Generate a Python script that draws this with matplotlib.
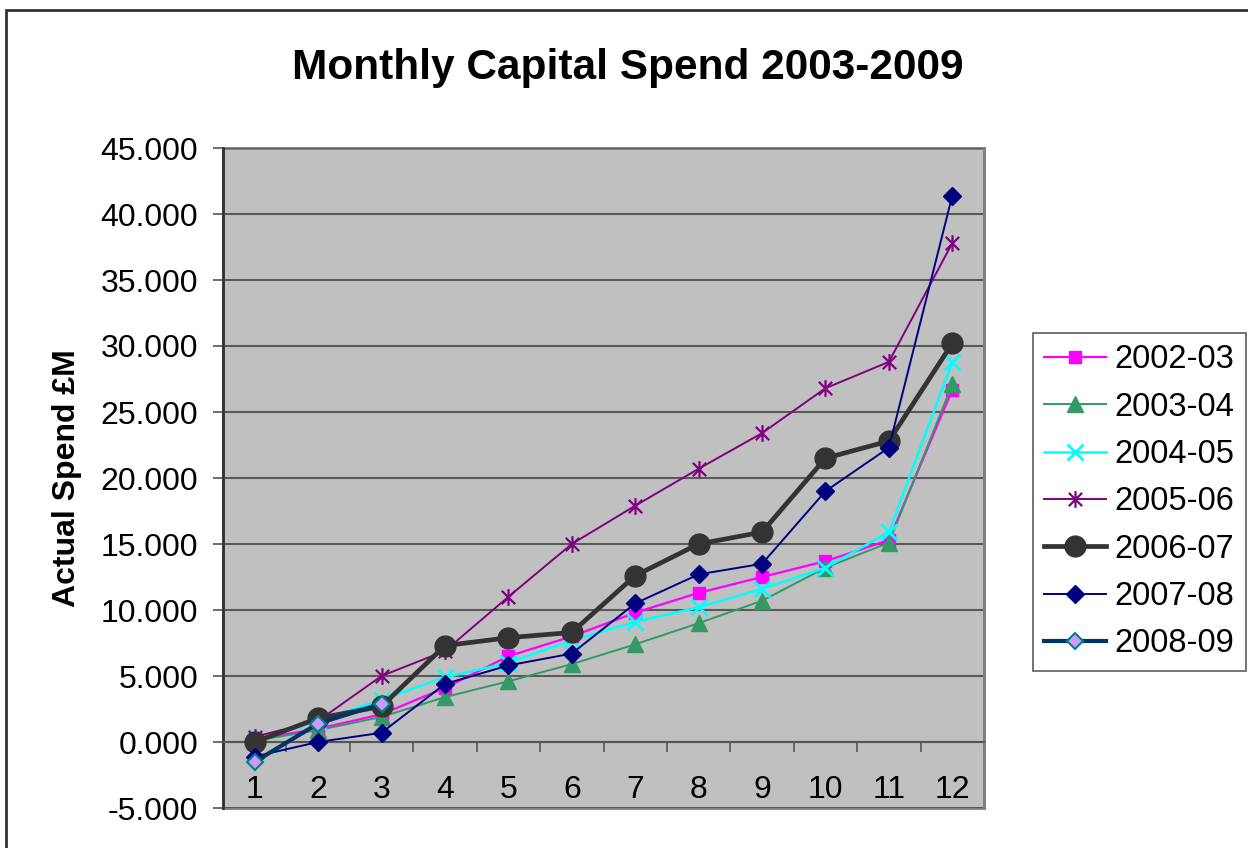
import matplotlib
matplotlib.use("Agg")
import matplotlib.pyplot as plt
from matplotlib.path import Path
from matplotlib.patches import Rectangle
from matplotlib.ticker import FixedLocator, FuncFormatter

plt.rcParams["font.family"] = ["Liberation Sans", "DejaVu Sans"]

# ── Datos: gasto de capital acumulado por mes (£M) ──────────
meses = list(range(1, 13))
etiquetas_mes = [str(m) for m in meses]

gasto_2002_03 = [0.2, 1.0, 2.1, 4.1, 6.5, 8.0, 9.8, 11.3, 12.5, 13.7, 15.3, 26.7]
gasto_2003_04 = [0.1, 0.9, 1.9, 3.4, 4.6, 5.9, 7.4, 9.0, 10.7, 13.2, 15.1, 27.1]
gasto_2004_05 = [0.1, 1.6, 3.2, 4.9, 6.0, 7.7, 9.1, 10.2, 11.6, 13.2, 15.9, 28.8]
gasto_2005_06 = [0.4, 1.6, 5.0, 6.9, 11.0, 15.0, 17.9, 20.7, 23.4, 26.8, 28.8, 37.8]
gasto_2006_07 = [0.0, 1.8, 2.7, 7.3, 7.9, 8.3, 12.6, 15.0, 15.9, 21.5, 22.8, 30.2]
gasto_2007_08 = [-1.1, 0.0, 0.7, 4.4, 5.8, 6.7, 10.5, 12.7, 13.5, 19.0, 22.3, 41.4]
gasto_2008_09 = [-1.5, 1.4, 2.9]

# Marcador "estrella" tipo Excel: aspa + barra vertical
estrella = Path(
    [(-1, -1), (1, 1), (-1, 1), (1, -1), (0, -1.25), (0, 1.25)],
    [Path.MOVETO, Path.LINETO, Path.MOVETO, Path.LINETO, Path.MOVETO, Path.LINETO],
)

series = [
    ("2002-03", gasto_2002_03, dict(color="#FF00FF", lw=1.6, marker="s", ms=9)),
    ("2003-04", gasto_2003_04, dict(color="#339966", lw=1.4, marker="^", ms=11.5)),
    ("2004-05", gasto_2004_05, dict(color="#00FFFF", lw=1.8, marker="x", ms=11, mew=2)),
    ("2005-06", gasto_2005_06, dict(color="#800080", lw=1.4, marker=estrella, ms=12,
                                    mew=1.6, mfc="none")),
    ("2006-07", gasto_2006_07, dict(color="#333333", lw=3.4, marker="o", ms=15)),
    ("2007-08", gasto_2007_08, dict(color="#000080", lw=1.4, marker="D", ms=9)),
    ("2008-09", gasto_2008_09, dict(color="#003366", lw=3.0, marker="D", ms=8.5,
                                    mfc="#CC99FF", mec="#008080", mew=1.5)),
]

fig = plt.figure(figsize=(12.48, 8.48), dpi=100)
ax = fig.add_axes([223 / 1248, 1 - 808 / 848, (984 - 223) / 1248, (808 - 148) / 848])

ax.set_facecolor("#C0C0C0")
ax.patch.set_edgecolor("#808080")
ax.patch.set_linewidth(2)

for nombre, valores, estilo in series:
    ax.plot(meses[:len(valores)], valores, label=nombre, zorder=3, **estilo)

ax.set_xlim(0.5, 12.5)
ax.set_ylim(-5, 45)

# Rejilla horizontal cada 5
ax.set_yticks(range(-5, 50, 5))
ax.yaxis.set_major_formatter(FuncFormatter(lambda v, p: f"{v:.3f}"))
ax.grid(axis="y", color="#5A5A5A", lw=1.5, zorder=1)
ax.set_axisbelow(True)

# Eje X cruzando en 0, marcas entre categorías
ax.spines["bottom"].set_position(("data", 0))
ax.spines["bottom"].set_color("#555555")
ax.spines["bottom"].set_linewidth(1.5)
ax.spines["top"].set_visible(False)
ax.spines["right"].set_color("#808080")
ax.spines["right"].set_linewidth(2)
ax.spines["left"].set_color("#333333")
ax.spines["left"].set_linewidth(2)

ax.xaxis.set_major_locator(FixedLocator([m + 0.5 for m in range(0, 13)]))
ax.xaxis.set_major_formatter(FuncFormatter(lambda v, p: ""))
ax.xaxis.set_minor_locator(FixedLocator(meses))
ax.set_xticklabels(etiquetas_mes, minor=True)
ax.tick_params(axis="x", which="major", direction="out", length=7, width=1.2,
               color="#555555")
ax.tick_params(axis="x", which="minor", length=0, pad=24, labelsize=23)
ax.tick_params(axis="y", direction="out", length=7, width=1.2, color="#555555",
               labelsize=23, pad=11)

ax.set_ylabel("Actual Spend £M", fontsize=23, fontweight="bold", labelpad=13)

fig.suptitle("Monthly Capital Spend 2003-2009", fontsize=30.5, fontweight="bold",
             x=0.503, y=0.943)

leg = fig.legend(loc="upper left", bbox_to_anchor=(1033 / 1248, 1 - 333 / 848),
                 fontsize=23.5, frameon=True, fancybox=False, edgecolor="#333333",
                 handlelength=1.9, handletextpad=0.25, labelspacing=0.5,
                 borderpad=0.35, borderaxespad=0)
leg.get_frame().set_linewidth(1.2)

# Marco exterior del gráfico
fig.patches.append(Rectangle((6 / 1248, -0.1), 1.2, 1 - 10 / 848 + 0.1,
                             transform=fig.transFigure, fill=False,
                             edgecolor="#333333", lw=2))

fig.savefig("out.png", dpi=100, facecolor="white")
